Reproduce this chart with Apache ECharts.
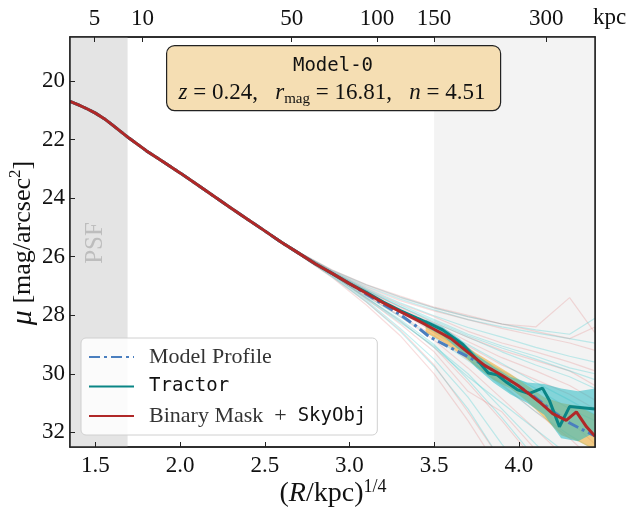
<!DOCTYPE html>
<html>
<head>
<meta charset="utf-8">
<script src="https://cdn.jsdelivr.net/npm/echarts@6/dist/echarts.min.js"></script>
<style>html,body{margin:0;padding:0;background:#fff;}#c{width:633px;height:513px;}</style>
</head>
<body>
<div id="c"></div>
<script>
// ---------- data ----------
const xTicks = [1.5, 2.0, 2.5, 3.0, 3.5, 4.0];
const yTicks = [20, 22, 24, 26, 28, 30, 32];
const kpcTicks = [5, 10, 50, 100, 150, 300];

// shared inner profile (all three curves coincide here)
const innerX  = [1.35, 1.40, 1.45, 1.50, 1.55, 1.60, 1.65, 1.70, 1.80, 1.90, 2.00, 2.10, 2.20, 2.30, 2.40, 2.50, 2.60, 2.70, 2.80, 2.90, 3.00];
const innerMu = [20.70, 20.82, 20.95, 21.10, 21.28, 21.50, 21.73, 21.96, 22.38, 22.76, 23.14, 23.54, 23.94, 24.34, 24.73, 25.12, 25.52, 25.88, 26.25, 26.58, 26.92];

const modelX  = [3.10, 3.20, 3.30, 3.40, 3.47, 3.60, 3.70, 3.80, 3.90, 4.00, 4.10, 4.20, 4.30, 4.40, 4.45];
const modelMu = [27.28, 27.63, 27.98, 28.40, 28.73, 29.12, 29.42, 29.72, 30.08, 30.42, 30.82, 31.28, 31.68, 31.98, 32.12];

const tractorX  = [3.10, 3.20, 3.30, 3.40, 3.47, 3.55, 3.67, 3.75, 3.82, 3.87, 3.93, 3.99, 4.06, 4.14, 4.18, 4.24, 4.30, 4.45];
const tractorMu = [27.22, 27.55, 27.84, 28.10, 28.28, 28.50, 29.00, 29.50, 29.97, 30.03, 30.30, 30.54, 30.68, 30.49, 30.90, 31.81, 31.12, 31.20];

const maskX  = [3.10, 3.20, 3.30, 3.40, 3.50, 3.60, 3.70, 3.80, 3.90, 4.00, 4.06, 4.13, 4.20, 4.28, 4.34, 4.40, 4.45];
const maskMu = [27.25, 27.58, 27.88, 28.17, 28.48, 28.80, 29.27, 29.72, 30.05, 30.42, 30.68, 31.00, 31.36, 31.59, 31.30, 31.81, 32.13];

// uncertainty bands
const bandX = [3.45, 3.55, 3.65, 3.75, 3.85, 3.95, 4.05, 4.15, 4.25, 4.35, 4.45];
const tractorLo = [28.15, 28.40, 28.80, 29.35, 29.75, 30.10, 30.30, 30.35, 30.50, 30.60, 30.50];
const tractorHi = [28.40, 28.70, 29.20, 29.80, 30.30, 30.70, 31.00, 31.40, 32.20, 32.30, 32.00];
const maskLo = [28.35, 28.55, 28.90, 29.30, 29.65, 30.00, 30.40, 30.80, 31.00, 31.10, 31.40];
const maskHi = [28.60, 28.90, 29.30, 29.75, 30.20, 30.50, 30.95, 31.50, 32.10, 32.30, 32.60];

// individual faint realisations
const faintX = [2.5, 2.7, 2.9, 3.1, 3.3, 3.5, 3.7, 3.9, 4.1, 4.3, 4.45];
const faintRed = [
  [25.12, 25.86, 26.52, 27.05, 27.50, 27.85, 28.15, 28.45, 28.70, 28.95, 29.20],
  [25.13, 25.90, 26.62, 27.40, 28.20, 29.10, 30.30, 31.60, 33.0, 34.0, 35.0],
  [25.12, 25.87, 26.56, 27.18, 27.72, 28.25, 28.75, 29.20, 29.55, 29.90, 30.40],
  [25.13, 25.89, 26.60, 27.32, 28.05, 28.85, 29.80, 30.85, 31.90, 33.0, 34.0],
  [25.11, 25.85, 26.48, 26.98, 27.40, 27.75, 28.05, 28.30, 28.40, 27.40, 28.60],
  [25.14, 25.92, 26.68, 27.55, 28.50, 29.70, 31.30, 33.0, 35.0, 36.0, 36.0],
  [25.12, 25.88, 26.57, 27.22, 27.85, 28.45, 29.05, 29.70, 30.20, 30.70, 31.20],
  [25.12, 25.86, 26.53, 27.10, 27.62, 28.05, 28.55, 28.95, 29.25, 29.60, 29.90],
  [25.13, 25.89, 26.61, 27.35, 28.00, 28.70, 29.50, 30.35, 31.30, 32.20, 33.0],
  [25.14, 25.93, 26.72, 27.65, 28.70, 30.00, 31.60, 33.4, 35.0, 36.0, 36.0],
  [25.11, 25.84, 26.46, 26.95, 27.35, 27.72, 28.00, 28.30, 28.55, 28.80, 28.40],
  [25.12, 25.87, 26.55, 27.15, 27.75, 28.30, 28.90, 29.45, 29.90, 30.40, 30.90],
  [25.12, 25.88, 26.58, 27.25, 27.90, 28.60, 29.30, 30.10, 30.80, 31.60, 32.40],
  [25.13, 25.90, 26.63, 27.45, 28.30, 29.25, 30.60, 31.30, 32.60, 33.5, 34.0]
];
const faintCyan = [
  [25.11, 25.85, 26.50, 27.02, 27.45, 27.82, 28.15, 28.40, 28.60, 28.80, 28.95],
  [25.13, 25.90, 26.63, 27.40, 28.15, 29.00, 30.20, 31.50, 32.90, 34.0, 35.0],
  [25.12, 25.87, 26.55, 27.15, 27.70, 28.25, 28.75, 29.25, 29.70, 30.10, 30.50],
  [25.12, 25.86, 26.52, 27.08, 27.58, 28.02, 28.42, 28.75, 29.10, 29.40, 29.60],
  [25.14, 25.92, 26.70, 27.55, 28.55, 29.75, 31.20, 33.0, 34.5, 35.0, 36.0],
  [25.13, 25.89, 26.60, 27.35, 28.05, 28.75, 29.55, 30.40, 31.30, 32.10, 32.60],
  [25.11, 25.84, 26.47, 26.96, 27.38, 27.75, 28.05, 28.30, 28.50, 28.65, 28.10],
  [25.12, 25.88, 26.58, 27.25, 27.88, 28.55, 29.25, 29.90, 30.50, 31.20, 31.60],
  [25.13, 25.90, 26.64, 27.45, 28.25, 29.05, 30.00, 31.20, 32.40, 33.5, 34.0],
  [25.12, 25.86, 26.53, 27.12, 27.65, 28.15, 28.65, 29.05, 29.40, 29.80, 30.00],
  [25.14, 25.91, 26.68, 27.50, 28.45, 29.50, 30.80, 32.40, 33.8, 34.5, 35.0],
  [25.12, 25.87, 26.54, 27.14, 27.70, 28.20, 28.70, 29.12, 29.50, 29.90, 30.20],
  [25.12, 25.88, 26.56, 27.20, 27.80, 28.40, 29.00, 29.65, 30.30, 30.90, 31.40],
  [25.13, 25.89, 26.62, 27.40, 28.20, 29.10, 30.10, 31.00, 31.90, 32.80, 33.5]
];

const xRange = [1.35, 4.45];
const yRange = [18.5, 32.5];
const psfEdge = 1.69;
const outerEdge = 3.5;

// ---------- helpers ----------
const pairs = (xs, ys) => xs.map((x, i) => [x, ys[i]]);
const withInner = (xs, ys) => pairs(innerX, innerMu).concat(pairs(xs, ys));
const SERIF = '"Liberation Serif", "Times New Roman", serif';
const MONO = '"DejaVu Sans Mono", monospace';

function bandSeries(lo, hi, color) {
  return {
    type: 'custom', silent: true, clip: true, z: 3,
    data: [0],
    renderItem: function (params, api) {
      const pts = [];
      for (let i = 0; i < bandX.length; i++) pts.push(api.coord([bandX[i], lo[i]]));
      for (let i = bandX.length - 1; i >= 0; i--) pts.push(api.coord([bandX[i], hi[i]]));
      return { type: 'polygon', shape: { points: pts }, style: { fill: color } };
    }
  };
}

const series = [];
// shaded regions
series.push({
  type: 'line', data: [], silent: true, z: 0,
  markArea: {
    silent: true,
    data: [
      [{ xAxis: xRange[0], itemStyle: { color: '#e4e4e4' } }, { xAxis: psfEdge }],
      [{ xAxis: outerEdge, itemStyle: { color: '#f3f3f3' } }, { xAxis: xRange[1] }]
    ]
  }
});
for (let k = 0; k < Math.max(faintRed.length, faintCyan.length); k++) {
  if (faintCyan[k]) series.push({ type: 'line', data: pairs(faintX, faintCyan[k]), symbol: 'none', silent: true, z: 1,
    lineStyle: { color: '#30c8cc', width: 1.2, opacity: 0.28 } });
  if (faintRed[k]) series.push({ type: 'line', data: pairs(faintX, faintRed[k]), symbol: 'none', silent: true, z: 1,
    lineStyle: { color: '#e06a6a', width: 1.2, opacity: 0.22 } });
}
series.push(bandSeries(maskLo, maskHi, 'rgba(236,168,40,0.55)'));
series.push(bandSeries(tractorLo, tractorHi, 'rgba(40,185,195,0.55)'));
series.push({ name: 'Model Profile', type: 'line', data: withInner(modelX, modelMu), symbol: 'none', showSymbol: false, z: 5,
  lineStyle: { color: '#4a7fbf', width: 3, type: [11, 4, 3, 4] }, itemStyle: { color: '#4a7fbf' } });
series.push({ name: 'Tractor', type: 'line', data: withInner(tractorX, tractorMu), symbol: 'none', showSymbol: false, z: 6,
  lineStyle: { color: '#0a8585', width: 3 }, itemStyle: { color: '#0a8585' } });
series.push({ name: 'Binary Mask + SkyObj', type: 'line', data: withInner(maskX, maskMu), symbol: 'none', showSymbol: false, z: 7,
  lineStyle: { color: '#b02828', width: 3 }, itemStyle: { color: '#b02828' } });

const axisBase = {
  type: 'value', min: xRange[0], max: xRange[1], z: 20,
  axisLine: { show: true, lineStyle: { color: '#222', width: 1.5 } },
  splitLine: { show: false }
};

const option = {
  animation: false,
  backgroundColor: '#fff',
  grid: { left: 70, right: 38, top: 37, bottom: 66, show: true, borderColor: '#222', borderWidth: 1.5, backgroundColor: '#fff' },
  xAxis: [
    Object.assign({}, axisBase, {
      position: 'bottom',
      axisTick: { inside: true, length: 5, customValues: xTicks, lineStyle: { color: '#222' } },
      axisLabel: { customValues: xTicks, formatter: v => v.toFixed(1), margin: 7, fontFamily: SERIF, fontSize: 23, color: '#111' }
    }),
    Object.assign({}, axisBase, {
      position: 'top',
      axisTick: { inside: true, length: 5, customValues: kpcTicks.map(k => Math.pow(k, 0.25)), lineStyle: { color: '#222' } },
      axisLabel: { customValues: kpcTicks.map(k => Math.pow(k, 0.25)), formatter: v => String(Math.round(Math.pow(v, 4))), margin: 7, fontFamily: SERIF, fontSize: 23, color: '#111' }
    })
  ],
  yAxis: [{
    type: 'value', inverse: true, min: yRange[0], max: yRange[1], z: 20, position: 'left',
    axisLine: { show: true, lineStyle: { color: '#222', width: 1.5 } },
    splitLine: { show: false },
    axisTick: { inside: true, length: 5, customValues: yTicks, lineStyle: { color: '#222' } },
    axisLabel: { customValues: yTicks, margin: 5, fontFamily: SERIF, fontSize: 23, color: '#111' }
  }, {
    type: 'value', inverse: true, min: yRange[0], max: yRange[1], z: 20, position: 'right',
    axisLine: { show: true, lineStyle: { color: '#222', width: 1.5 } },
    splitLine: { show: false }, axisTick: { show: false }, axisLabel: { show: false }
  }],
  legend: {
    orient: 'vertical', left: 81, top: 338,
    data: ['Model Profile', 'Tractor', 'Binary Mask + SkyObj'],
    itemWidth: 45, itemHeight: 14, itemGap: 9,
    padding: [8, 11, 8, 7],
    itemStyle: { color: 'transparent', borderWidth: 0, opacity: 0 },
    backgroundColor: 'rgba(255,255,255,0.85)', borderColor: '#d0d0d0', borderWidth: 1, borderRadius: 5,
    textStyle: {
      fontFamily: SERIF, fontSize: 22, color: '#333', padding: [0, 0, 0, 10],
      rich: {
        s: { fontFamily: SERIF, fontSize: 22, color: '#333' },
        m: { fontFamily: MONO, fontSize: 19, color: '#111' }
      }
    },
    formatter: function (name) {
      if (name === 'Tractor') return '{m|Tractor}';
      if (name === 'Binary Mask + SkyObj') return '{s|Binary Mask  +  }{m|SkyObj}';
      return '{s|' + name + '}';
    }
  },
  graphic: [
    { type: 'rect', left: 166, top: 45, shape: { width: 334, height: 65, r: 8 }, z: 100,
      style: { fill: '#f5deb3', stroke: '#222', lineWidth: 1.2 } },
    { type: 'text', x: 333, y: 66, z: 101,
      style: { text: 'Model-0', font: '19px ' + MONO, fill: '#111', align: 'center', verticalAlign: 'middle' } },
    { type: 'text', x: 332, y: 93, z: 101,
      style: {
        text: '{i|z}{n| = 0.24,   }{i|r}{sub|mag}{n| = 16.81,   }{i|n}{n| = 4.51}',
        align: 'center', verticalAlign: 'middle',
        rich: {
          i: { fontFamily: SERIF, fontStyle: 'italic', fontSize: 23, fill: '#111', lineHeight: 27 },
          n: { fontFamily: SERIF, fontSize: 23, fill: '#111', lineHeight: 27 },
          sub: { fontFamily: SERIF, fontSize: 15, fill: '#111', verticalAlign: 'bottom', lineHeight: 15 }
        }
      } },
    { type: 'text', x: 95, y: 243, rotation: Math.PI / 2, z: 50,
      style: { text: 'PSF', font: '25px ' + SERIF, fill: '#bdbdbd', align: 'center', verticalAlign: 'middle' } },
    { type: 'text', x: 23, y: 243, rotation: Math.PI / 2, z: 50,
      style: {
        text: '{i|μ}{n| [mag/arcsec}{sup|2}{n|]}',
        align: 'center', verticalAlign: 'middle',
        rich: {
          i: { fontFamily: SERIF, fontStyle: 'italic', fontSize: 30, fill: '#111', lineHeight: 32 },
          n: { fontFamily: SERIF, fontSize: 26, fill: '#111', lineHeight: 32 },
          sup: { fontFamily: SERIF, fontSize: 17, fill: '#111', verticalAlign: 'top', lineHeight: 17 }
        }
      } },
    { type: 'text', x: 333, y: 494, z: 50,
      style: {
        text: '{n|(}{i|R}{n|/kpc)}{sup|1/4}',
        align: 'center', verticalAlign: 'middle',
        rich: {
          i: { fontFamily: SERIF, fontStyle: 'italic', fontSize: 28, fill: '#111', lineHeight: 32 },
          n: { fontFamily: SERIF, fontSize: 28, fill: '#111', lineHeight: 32 },
          sup: { fontFamily: SERIF, fontSize: 18, fill: '#111', verticalAlign: 'top', lineHeight: 18 }
        }
      } },
    { type: 'text', x: 593, y: 18, z: 50,
      style: { text: 'kpc', font: '23px ' + SERIF, fill: '#111', align: 'left', verticalAlign: 'middle' } }
  ],
  series: series
};

const chart = echarts.init(document.getElementById('c'), null, { renderer: 'canvas' });
chart.setOption(option);
</script>
</body>
</html>
